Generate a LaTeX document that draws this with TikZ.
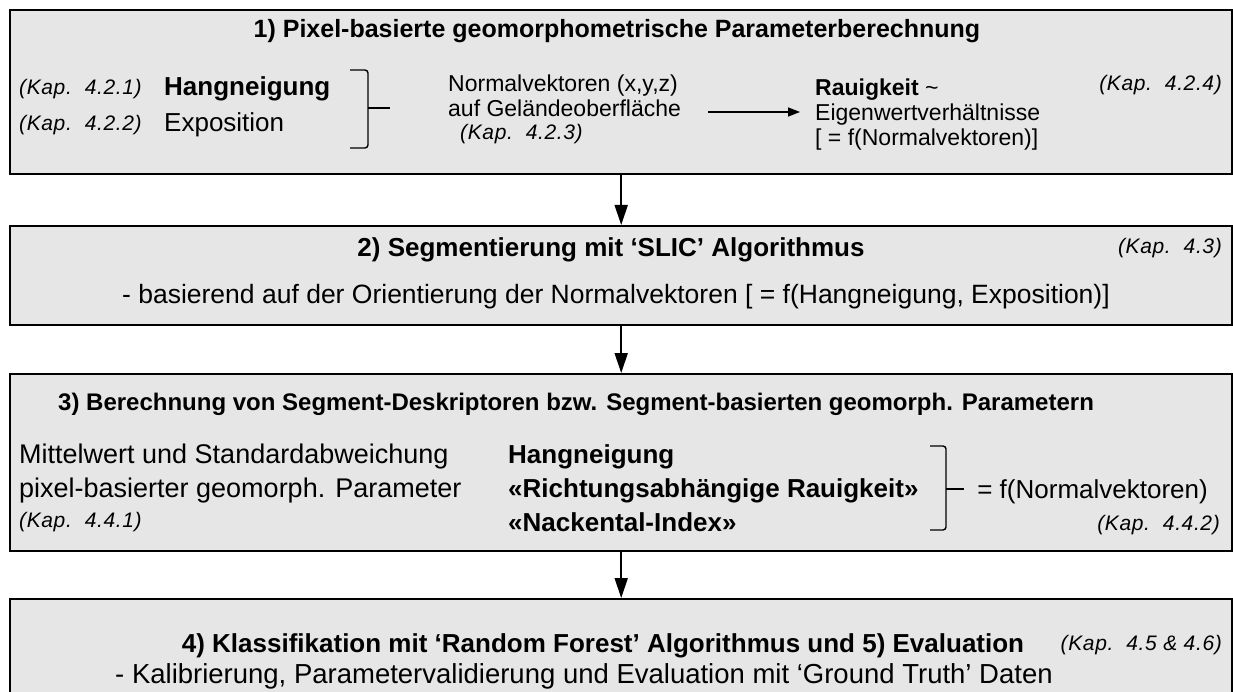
\documentclass[tikz,border=0pt]{standalone}
\usepackage{fontspec}
\setmainfont{Liberation Sans}
\newfontfamily\kapfont{Liberation Sans}[LetterSpace=3]
\usetikzlibrary{arrows.meta}
\definecolor{boxgray}{RGB}{230,230,230}
\newcommand{\fs}[1]{\fontsize{#1}{#1}\selectfont}
\begin{document}
\begin{tikzpicture}[x=1pt,y=-1pt,
  box/.style={draw=black, line width=2.4pt, fill=boxgray, inner sep=0pt, anchor=north west},
  ttl/.style={font=\fs{25}\bfseries, anchor=base, inner sep=0pt},
  txt/.style={font=\fs{26}, anchor=base west, inner sep=0pt},
  txtb/.style={txt, font=\fs{26}\bfseries},
  small/.style={font=\fs{23}, anchor=base west, inner sep=0pt},
  txtc/.style={txt, anchor=base},
  kap/.style={font=\kapfont\fs{21}\itshape, anchor=base west, inner sep=0pt},
  flow/.style={line width=2pt, -{Triangle[length=20pt,width=13pt]}},
  inarrow/.style={line width=1.5pt, -{Triangle[length=12pt,width=9pt]}},
  brace/.style={line width=1.4pt, rounded corners=3pt}]
\useasboundingbox (0,0) rectangle (1233,692);
\clip (0,0) rectangle (1233,692);

% the four process boxes
\node[box, minimum width=1222pt, minimum height=164pt] (b1) at (9,9) {};
\node[box, minimum width=1222pt, minimum height=99pt] (b2) at (9,225) {};
\node[box, minimum width=1222pt, minimum height=177pt] (b3) at (9,373) {};
\node[box, minimum width=1222pt, minimum height=100pt] (b4) at (9,598) {};

% flow between the steps
\draw[flow] (b1.south) -- (b2.north);
\draw[flow] (b2.south) -- (b3.north);
\draw[flow] (b3.south) -- (b4.north);

% step 1
\node[ttl] (t1) at (617,38) {1) Pixel-basierte geomorphometrische Parameterberechnung};
\node[kap] (k421) at (19,95) {(Kap.\ \ 4.2.1)};
\node[txtb] (hang1) at (164,96) {Hangneigung};
\node[kap] (k422) at (19,131) {(Kap.\ \ 4.2.2)};
\node[txt] (expo1) at (164,132) {Exposition};
\draw[brace] (350,70) -- (368,70) -- (368,148) -- (350,148);
\draw[line width=1.4pt] (368,108) -- (390,108);
\node[small] (nv1) at (448,92) {Normalvektoren (x,y,z)};
\node[small] (nv2) at (448,117) {auf Geländeoberfläche};
\node[kap] (k423) at (460,140) {(Kap.\ \ 4.2.3)};
\coordinate (a1s) at (708,112);
\coordinate (a1e) at (800,112);
\draw[inarrow] (a1s) -- (a1e);
\node[small] (rau) at (815,96) {\textbf{Rauigkeit} \textasciitilde};
\node[small] (eig) at (815,121) {Eigenwertverhältnisse};
\node[small] (fnv1) at (815,146) {[ = f(Normalvektoren)]};
\node[kap, anchor=base east] (k424) at (1222,91) {(Kap.\ \ 4.2.4)};

% step 2
\node[ttl, font=\fs{26}\bfseries] (t2) at (611,257) {2) Segmentierung mit ‘SLIC’ Algorithmus};
\node[kap, anchor=base east] (k43) at (1222,254) {(Kap.\ \ 4.3)};
\node[txtc, font=\fs{26.5}] (s2) at (616,304) {- basierend auf der Orientierung der Normalvektoren [ = f(Hangneigung, Exposition)]};

% step 3
\node[ttl, font=\fs{24}\bfseries, anchor=base west] (t3) at (58,410) {3) Berechnung von Segment-Deskriptoren bzw. Segment-basierten geomorph. Parametern};
\node[txt, font=\fs{27}] (mw) at (19,463) {Mittelwert und Standardabweichung};
\node[txt, font=\fs{27}] (pb) at (19,497) {pixel-basierter geomorph. Parameter};
\node[kap] (k441) at (19,527) {(Kap.\ \ 4.4.1)};
\node[txtb] (hang3) at (508,463) {Hangneigung};
\node[txtb] (rich) at (508,497) {«Richtungsabhängige Rauigkeit»};
\node[txtb] (nack) at (508,531) {«Nackental-Index»};
\draw[brace] (930,446) -- (946,446) -- (946,530) -- (930,530);
\draw[line width=1.4pt] (946,489) -- (964,489);
\node[txt] (fnv3) at (1208,498) [anchor=base east] {= f(Normalvektoren)};
\node[kap, anchor=base east] (k442) at (1220,530) {(Kap.\ \ 4.4.2)};

% steps 4 and 5
\node[ttl, font=\fs{26}\bfseries] (t4) at (603,652) {4) Klassifikation mit ‘Random Forest’ Algorithmus und 5) Evaluation};
\node[kap, anchor=base east] (k45) at (1222,650) {(Kap.\ \ 4.5 \& 4.6)};
\node[txtc, font=\fs{27.5}] (s4) at (584,683) {- Kalibrierung, Parametervalidierung und Evaluation mit ‘Ground Truth’ Daten};
\end{tikzpicture}
\end{document}
